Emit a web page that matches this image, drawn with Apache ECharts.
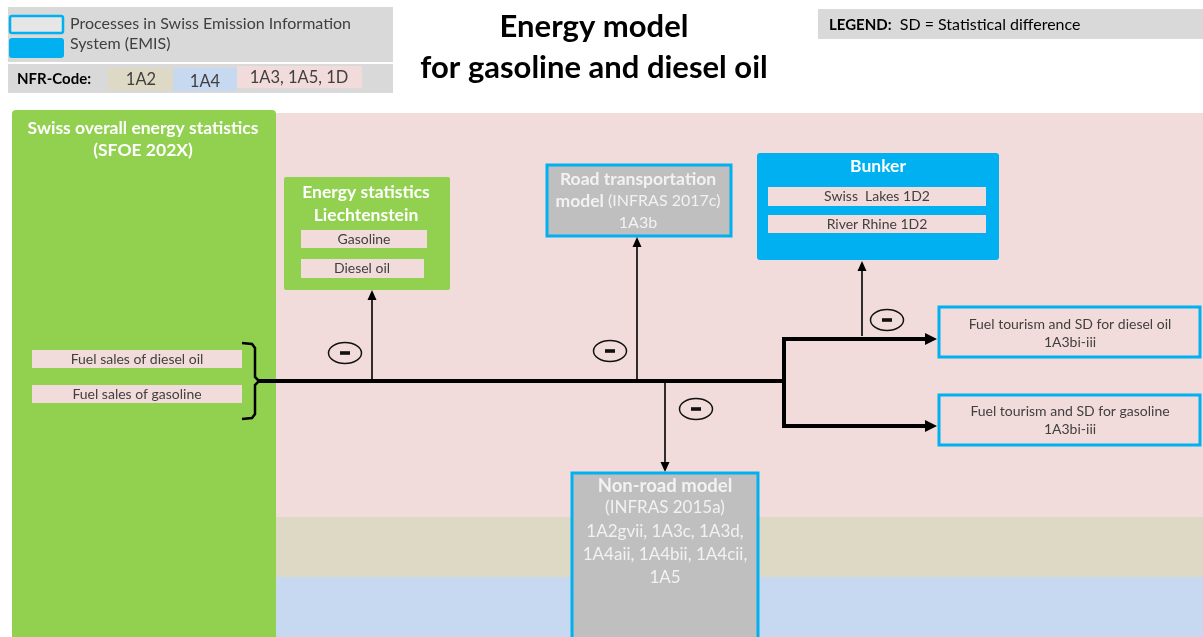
<!DOCTYPE html>
<html>
<head>
<meta charset="utf-8">
<script src="https://cdn.jsdelivr.net/npm/echarts@6/dist/echarts.min.js"></script>
<style>
  html, body { margin: 0; padding: 0; background: #fff; }
  #chart { width: 1203px; height: 637px; }
</style>
</head>
<body>
<div id="chart"></div>
<script>
// --- texts of the diagram ---
var titleLines = ['Energy model', 'for gasoline and diesel oil'];
var emisLegend = ['Processes in Swiss Emission Information', 'System (EMIS)'];
var nfrLabel = 'NFR-Code:';
var nfrCodes = ['1A2', '1A4', '1A3, 1A5, 1D'];
var sdLegend = ['LEGEND:', 'SD = Statistical difference'];
var swissStats = ['Swiss overall energy statistics', '(SFOE 202X)'];
var fuelSales = ['Fuel sales of diesel oil', 'Fuel sales of gasoline'];
var liechTitle = ['Energy statistics', 'Liechtenstein'];
var liechItems = ['Gasoline', 'Diesel oil'];
var roadModel = [['Road transportation', ''], ['model', ' (INFRAS 2017c)'], ['', '1A3b']];
var bunkerTitle = 'Bunker';
var bunkerItems = ['Swiss  Lakes 1D2', 'River Rhine 1D2'];
var tourismDiesel = ['Fuel tourism and SD for diesel oil', '1A3bi-iii'];
var tourismGasoline = ['Fuel tourism and SD for gasoline', '1A3bi-iii'];
var nonRoad = [['Non-road model', ''], ['', '(INFRAS 2015a)'], ['', '1A2gvii, 1A3c, 1A3d,'], ['', '1A4aii, 1A4bii, 1A4cii,'], ['', '1A5']];

var W = 1203, H = 637;
var FONT = 'Lato, "Open Sans", sans-serif';
var C = {
  pink: '#f2dcdb', tan: '#ddd9c4', lblue: '#c6d9f1', green: '#92d050',
  blue: '#00b0f0', gray: '#bfbfbf', lgray: '#d9d9d9', ink: '#404040',
  white: '#ffffff', soft: '#f2f2f2', black: '#000000'
};

// --- layout (diagram units = pixels of the 1203x637 frame) ---
var shapes = [];
function rect(x0, y0, x1, y1, fill, stroke, lw, r) {
  shapes.push({ k: 'rect', x0: x0, y0: y0, x1: x1, y1: y1, fill: fill, stroke: stroke, lw: lw || 0, r: r || 0 });
}
// parts: [boldText, normalText]; size for normal text, bsize for bold text
function text(x, y, parts, size, color, align, bsize) {
  shapes.push({ k: 'text', x: x, y: y, parts: parts, size: size, bsize: bsize || size, color: color, align: align || 'center' });
}
function line(points, lw) {
  shapes.push({ k: 'line', pts: points, lw: lw });
}
function arrow(points, lw, hl, hw) {
  shapes.push({ k: 'arrow', pts: points, lw: lw, hl: hl, hw: hw });
}
function minus(x, y) {
  shapes.push({ k: 'minus', x: x, y: y });
}

// background bands for NFR codes
rect(12, 113, W, 517, C.pink);
rect(12, 517, W, 577, C.tan);
rect(12, 577, W, H, C.lblue);

// legend boxes
rect(8, 7, 393, 62, C.lgray);
rect(8, 64, 393, 93, C.lgray);
rect(10, 16, 63, 33, '#e7e6e6', C.blue, 2.5, 2);
rect(9, 38, 64, 58, C.blue, null, 0, 3);
text(70, 24, [['', emisLegend[0]]], 16, C.ink, 'left');
text(70, 44, [['', emisLegend[1]]], 16, C.ink, 'left');
text(17, 79, [[nfrLabel, '']], 15, C.black, 'left');
rect(108, 68, 173, 90, C.tan);
rect(173, 68, 237, 91, C.lblue);
rect(237, 66, 362, 88, C.pink);
text(141, 80, [['', nfrCodes[0]]], 16.5, C.ink);
text(205, 82, [['', nfrCodes[1]]], 16.5, C.ink);
text(299, 78, [['', nfrCodes[2]]], 16.5, C.ink);
rect(818, 9, W, 39, C.lgray);
text(829, 25, [[sdLegend[0], '  ' + sdLegend[1]]], 16, C.black, 'left', 15);

// title
text(594, 27, [[titleLines[0], '']], 31, C.black);
text(594, 68, [[titleLines[1], '']], 31, C.black);

// Swiss overall energy statistics
rect(12, 110, 276, H + 6, C.green, null, 0, 4);
text(143, 128, [[swissStats[0], '']], 17.5, C.white);
text(143, 150, [[swissStats[1], '']], 17.5, C.white);
rect(32, 350, 242, 368, C.pink);
rect(32, 385, 242, 403, C.pink);
text(137, 359, [['', fuelSales[0]]], 14, C.ink);
text(137, 394, [['', fuelSales[1]]], 14, C.ink);
line([[242, 343], [252, 344], [255, 348], [255, 377], [259, 381], [255, 385], [255, 414], [252, 418], [242, 419]], 2.5);
line([[257, 381], [784, 381]], 4);

// Liechtenstein
rect(284, 177, 450, 290, C.green, null, 0, 2);
text(366, 192, [[liechTitle[0], '']], 17.5, C.white);
text(366, 215, [[liechTitle[1], '']], 17.5, C.white);
rect(301, 230, 427, 248, C.pink);
rect(301, 259, 424, 278, C.pink);
text(364, 239, [['', liechItems[0]]], 14, C.ink);
text(362, 268, [['', liechItems[1]]], 14, C.ink);
arrow([[372, 381], [372, 290]], 1.6, 10, 4.5);
minus(345, 353);

// Road transportation model
rect(547, 165, 731, 236, C.gray, C.blue, 3);
text(638, 179, [roadModel[0]], 16, C.soft, 'center', 17.5);
text(638, 201, [roadModel[1]], 16, C.soft, 'center', 17.5);
text(638, 223, [roadModel[2]], 16, C.soft, 'center', 17.5);
arrow([[637, 381], [637, 237]], 1.6, 10, 4.5);
minus(610, 351);

// Bunker
rect(757, 153, 999, 260, C.blue, null, 0, 3);
text(878, 166, [[bunkerTitle, '']], 17.5, C.white);
rect(768, 187, 986, 206, C.pink);
rect(768, 215, 986, 233, C.pink);
text(877, 196, [['', bunkerItems[0]]], 14, C.ink);
text(877, 224, [['', bunkerItems[1]]], 14, C.ink);
arrow([[862, 336], [862, 261]], 1.6, 10, 4.5);
minus(887, 320);

// branches to fuel tourism
arrow([[784, 383], [784, 339], [937, 339]], 4, 12, 6);
arrow([[784, 379], [784, 426], [937, 426]], 4, 12, 6);
rect(939, 307, 1200, 357, C.pink, C.blue, 3);
text(1070, 324, [['', tourismDiesel[0]]], 14, C.ink);
text(1070, 342, [['', tourismDiesel[1]]], 14, C.ink);
rect(939, 395, 1200, 445, C.pink, C.blue, 3);
text(1070, 411, [['', tourismGasoline[0]]], 14, C.ink);
text(1070, 429, [['', tourismGasoline[1]]], 14, C.ink);

// Non-road model
arrow([[665, 383], [665, 472]], 1.6, 10, 4.5);
minus(696, 409);
rect(572, 473, 758, H + 4, C.gray, C.blue, 3);
var nonRoadY = [486, 508, 532, 555, 578];
nonRoad.forEach(function (p, i) { text(665, nonRoadY[i], [p], 17, C.soft, 'center', 18.5); });

// --- rendering ---
function renderItem(params, api) {
  var s = shapes[params.dataIndex];
  var z = params.dataIndex;
  function P(x, y) { return api.coord([x, y]); }
  if (s.k === 'rect') {
    var a = P(s.x0, s.y0), b = P(s.x1, s.y1);
    return {
      type: 'rect', z2: z,
      shape: { x: a[0], y: a[1], width: b[0] - a[0], height: b[1] - a[1], r: s.r },
      style: { fill: s.fill || 'none', stroke: s.stroke || null, lineWidth: s.lw }
    };
  }
  if (s.k === 'text') {
    var p = P(s.x, s.y);
    var str = s.parts.map(function (pt) {
      return (pt[0] ? '{b|' + pt[0] + '}' : '') + (pt[1] ? '{n|' + pt[1] + '}' : '');
    }).join('');
    return {
      type: 'text', z2: z, x: p[0], y: p[1],
      style: {
        text: str, align: s.align, verticalAlign: 'middle',
        font: s.size + 'px ' + FONT, fill: s.color,
        rich: {
          b: { fontWeight: 'bold', fontSize: s.bsize, fontFamily: FONT, fill: s.color },
          n: { fontWeight: 'normal', fontSize: s.size, fontFamily: FONT, fill: s.color }
        }
      }
    };
  }
  if (s.k === 'line') {
    return {
      type: 'polyline', z2: z,
      shape: { points: s.pts.map(function (q) { return P(q[0], q[1]); }) },
      style: { stroke: C.black, lineWidth: s.lw, fill: null, lineJoin: 'miter' }
    };
  }
  if (s.k === 'arrow') {
    var pts = s.pts.map(function (q) { return P(q[0], q[1]); });
    var tip = pts[pts.length - 1], prev = pts[pts.length - 2];
    var dx = tip[0] - prev[0], dy = tip[1] - prev[1];
    var len = Math.sqrt(dx * dx + dy * dy);
    var ux = dx / len, uy = dy / len;
    var bx = tip[0] - ux * s.hl, by = tip[1] - uy * s.hl;
    var body = pts.slice(0, -1).concat([[bx + ux, by + uy]]);
    return {
      type: 'group',
      children: [
        { type: 'polyline', z2: z, shape: { points: body }, style: { stroke: C.black, lineWidth: s.lw, fill: null } },
        { type: 'polygon', z2: z, shape: { points: [tip, [bx - uy * s.hw, by + ux * s.hw], [bx + uy * s.hw, by - ux * s.hw]] }, style: { fill: C.black } }
      ]
    };
  }
  if (s.k === 'minus') {
    var c = P(s.x, s.y);
    return {
      type: 'group',
      children: [
        { type: 'ellipse', z2: z, shape: { cx: c[0], cy: c[1], rx: 16.5, ry: 10.5 }, style: { fill: null, stroke: '#111', lineWidth: 1.5 } },
        { type: 'rect', z2: z, shape: { x: c[0] - 5, y: c[1] - 1.8, width: 10, height: 3.6 }, style: { fill: '#111' } }
      ]
    };
  }
  return null;
}

var chart = echarts.init(document.getElementById('chart'), null, { renderer: 'canvas' });
chart.setOption({
  animation: false,
  backgroundColor: '#ffffff',
  grid: { left: 0, right: 0, top: 0, bottom: 0 },
  xAxis: { type: 'value', min: 0, max: W, show: false },
  yAxis: { type: 'value', min: 0, max: H, inverse: true, show: false },
  series: [{
    type: 'custom',
    coordinateSystem: 'cartesian2d',
    clip: false,
    silent: true,
    renderItem: renderItem,
    data: shapes.map(function (s) {
      return [s.x0 !== undefined ? s.x0 : (s.x !== undefined ? s.x : s.pts[0][0]),
              s.y0 !== undefined ? s.y0 : (s.y !== undefined ? s.y : s.pts[0][1])];
    })
  }]
});
window.addEventListener('resize', function () { chart.resize(); });
</script>
</body>
</html>
